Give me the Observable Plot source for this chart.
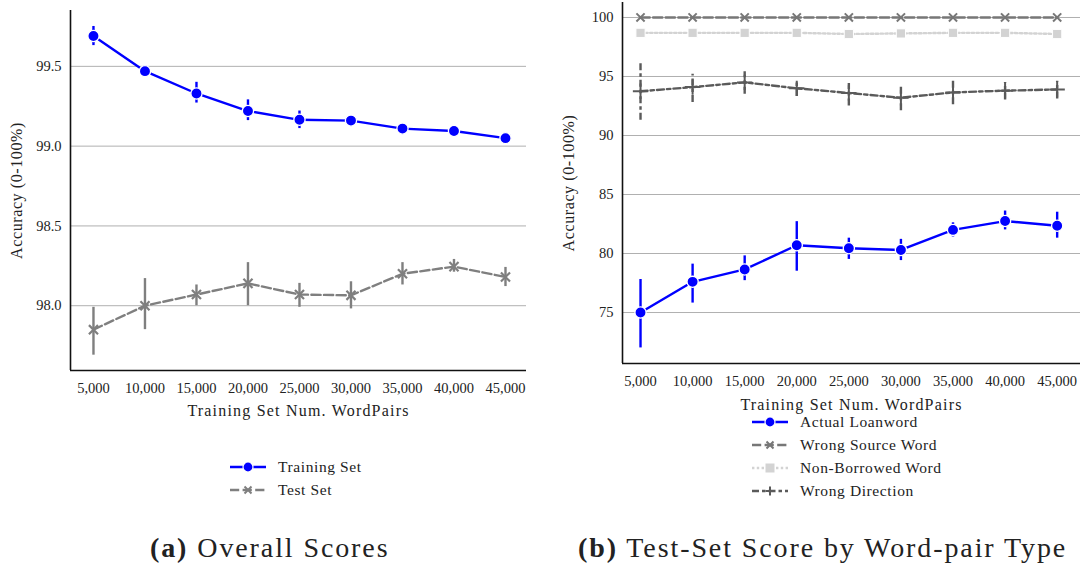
<!DOCTYPE html>
<html>
<head>
<meta charset="utf-8">
<script src="https://cdn.jsdelivr.net/npm/d3@7"></script>
<script src="https://cdn.jsdelivr.net/npm/@observablehq/plot@0.6"></script>
<style>
  html, body { margin: 0; padding: 0; background: #fff; }
  #root { position: relative; width: 1081px; height: 567px; overflow: hidden; font-family: "Liberation Serif", serif; color: #222; }
  .panel { position: absolute; top: 0; }
  .legend { position: absolute; font-size: 15.5px; letter-spacing: 0.6px; }
  .legend .row { display: flex; align-items: center; height: 23px; }
  .legend svg { margin-right: 12px; }
  .caption { position: absolute; top: 532px; font-size: 28px; letter-spacing: 1.9px; white-space: nowrap; }
  #root svg g[aria-label="x-axis label"] text { font-size: 16px; letter-spacing: 1.2px; }
  #root svg g[aria-label="y-axis label"] text { font-size: 16px; letter-spacing: 0.6px; }
</style>
</head>
<body>
<div id="root">
  <div id="panelA" class="panel" style="left:0px"></div>
  <div id="panelB" class="panel" style="left:540px"></div>
  <div id="legendA" class="legend" style="left:230px; top:455px"></div>
  <div id="legendB" class="legend" style="left:752px; top:410px"></div>
  <div class="caption" style="left:150px"><b>(a)</b> Overall Scores</div>
  <div class="caption" style="left:578px"><b>(b)</b> Test-Set Score by Word-pair Type</div>
</div>
<script>
// ---- data ----
const wordPairs = [5000, 10000, 15000, 20000, 25000, 30000, 35000, 40000, 45000];

// Panel (a): overall scores
const trainMean = [99.69, 99.47, 99.33, 99.22, 99.165, 99.16, 99.11, 99.095, 99.05];
const trainLo   = [99.63, 99.44, 99.27, 99.16, 99.11, 99.13, 99.10, 99.085, 99.045];
const trainHi   = [99.75, 99.50, 99.40, 99.29, 99.22, 99.19, 99.12, 99.105, 99.055];
const testMean  = [97.85, 98.00, 98.07, 98.14, 98.07, 98.065, 98.20, 98.245, 98.18];
const testLo    = [97.69, 97.85, 98.00, 98.00, 97.99, 97.98, 98.13, 98.21, 98.12];
const testHi    = [97.99, 98.17, 98.13, 98.27, 98.14, 98.15, 98.27, 98.29, 98.24];

// Panel (b): test-set score by word-pair type
const loanMean = [75.0, 77.6, 78.65, 80.7, 80.45, 80.3, 82.0, 82.75, 82.35];
const loanLo   = [72.0, 75.8, 77.7, 78.5, 79.5, 79.4, 81.4, 82.0, 81.3];
const loanHi   = [77.8, 79.1, 79.8, 82.7, 81.3, 81.2, 82.6, 83.6, 83.5];
const sourceMean = [100, 100, 100, 100, 100, 100, 100, 100, 100];
const nonBorrowedMean = [98.7, 98.7, 98.7, 98.7, 98.6, 98.65, 98.7, 98.7, 98.6];
const directionMean = [93.75, 94.1, 94.5, 94.0, 93.6, 93.2, 93.65, 93.8, 93.9];
const directionLo   = [91.3, 92.8, 93.5, 93.3, 92.5, 92.1, 92.6, 93.0, 93.1];
const directionHi   = [96.1, 95.2, 95.4, 94.7, 94.4, 94.3, 94.6, 94.5, 94.6];

const yTicksA = [98.0, 98.5, 99.0, 99.5];
const yTicksB = [75, 80, 85, 90, 95, 100];
const seriesA = ["Training Set", "Test Set"];
const seriesB = ["Actual Loanword", "Wrong Source Word", "Non-Borrowed Word", "Wrong Direction"];

// ---- helpers ----
const rows = (mean, lo, hi) => wordPairs.map((x, i) => ({x, y: mean[i], lo: lo ? lo[i] : mean[i], hi: hi ? hi[i] : mean[i]}));
const fmt = d3.format(",");
const FONT = "'Liberation Serif', serif";

const BLUE = "#0000ff", GRAY = "#7f7f7f", SRC = "#777777", NB = "#d3d3d3", DIR = "#5a5a5a";
const LW = 2.4;
const DASH1 = "9.2,3.4", DOT = "2.4,2.4", DASHDOT = "7,3,3.5,3";

// ---- Panel (a) ----
const train = rows(trainMean, trainLo, trainHi);
const test = rows(testMean, testLo, testHi);
const xDomA = [2770, 47040], yDomA = [97.594, 99.85];

const plotA = Plot.plot({
  width: 540, height: 420,
  marginLeft: 70, marginRight: 14, marginTop: 10, marginBottom: 50,
  style: {fontFamily: FONT, fontSize: "14.5px", color: "#222", background: "white"},
  x: {domain: xDomA},
  y: {domain: yDomA},
  marks: [
    Plot.gridY(yTicksA, {stroke: "#b0b0b0", strokeOpacity: 1, strokeWidth: 1}),
    Plot.axisY(yTicksA, {tickSize: 0, tickPadding: 9, tickFormat: d => d.toFixed(1), label: "Accuracy (0-100%)", labelAnchor: "center", labelOffset: 60, labelArrow: "none", fontSize: 14.5}),
    Plot.axisX(wordPairs, {tickSize: 0, tickPadding: 12, tickFormat: fmt, label: "Training Set Num. WordPairs", labelAnchor: "center", labelOffset: 45, labelArrow: "none", fontSize: 14.5}),
    Plot.ruleY([yDomA[0]], {stroke: "#111", strokeWidth: 1.6}),
    Plot.ruleX([xDomA[0]], {stroke: "#111", strokeWidth: 1.6}),
    // test set
    Plot.ruleX(test, {x: "x", y1: "lo", y2: "hi", stroke: GRAY, strokeWidth: LW}),
    Plot.line(test, {x: "x", y: "y", stroke: GRAY, strokeWidth: LW, strokeDasharray: DASH1}),
    Plot.dot(test, {x: "x", y: "y", symbol: "times", r: 4.2, stroke: GRAY, strokeWidth: 2.2}),
    // training set
    Plot.ruleX(train, {x: "x", y1: "lo", y2: "hi", stroke: BLUE, strokeWidth: LW}),
    Plot.line(train, {x: "x", y: "y", stroke: BLUE, strokeWidth: LW}),
    Plot.dot(train, {x: "x", y: "y", symbol: "circle", r: 5.6, fill: BLUE, stroke: "white", strokeWidth: 1.3})
  ]
});
document.getElementById("panelA").appendChild(plotA);

// ---- Panel (b) ----
const loan = rows(loanMean, loanLo, loanHi);
const src = rows(sourceMean);
const nb = rows(nonBorrowedMean);
const dir = rows(directionMean, directionLo, directionHi);
const xDomB = [3270, 47240], yDomB = [70.68, 101.27];

const plotB = Plot.plot({
  width: 541, height: 420,
  marginLeft: 82, marginRight: 1, marginTop: 2, marginBottom: 57,
  style: {fontFamily: FONT, fontSize: "14.5px", color: "#222", background: "white"},
  x: {domain: xDomB},
  y: {domain: yDomB},
  marks: [
    Plot.gridY(yTicksB, {stroke: "#b0b0b0", strokeOpacity: 1, strokeWidth: 1}),
    Plot.axisY(yTicksB, {tickSize: 0, tickPadding: 9, tickFormat: d => String(d), label: "Accuracy (0-100%)", labelAnchor: "center", labelOffset: 60, labelArrow: "none", fontSize: 14.5}),
    Plot.axisX(wordPairs, {tickSize: 0, tickPadding: 12, tickFormat: fmt, label: "Training Set Num. WordPairs", labelAnchor: "center", labelOffset: 46, labelArrow: "none", fontSize: 14.5}),
    Plot.ruleY([yDomB[0]], {stroke: "#111", strokeWidth: 1.6}),
    Plot.ruleX([xDomB[0]], {stroke: "#111", strokeWidth: 1.6}),
    // wrong direction
    Plot.ruleX(dir, {x: "x", y1: "lo", y2: "hi", stroke: DIR, strokeWidth: LW, strokeDasharray: DASHDOT}),
    Plot.line(dir, {x: "x", y: "y", stroke: DIR, strokeWidth: LW, strokeDasharray: DASHDOT}),
    Plot.dot(dir, {x: "x", y: "y", symbol: "plus", r: 5, stroke: DIR, strokeWidth: 2}),
    // non-borrowed
    Plot.line(nb, {x: "x", y: "y", stroke: NB, strokeWidth: LW, strokeDasharray: DOT}),
    Plot.dot(nb, {x: "x", y: "y", symbol: "square", r: 5.2, fill: NB, stroke: "white", strokeWidth: 1}),
    // wrong source
    Plot.line(src, {x: "x", y: "y", stroke: SRC, strokeWidth: LW, strokeDasharray: DASH1}),
    Plot.dot(src, {x: "x", y: "y", symbol: "times", r: 3.8, stroke: SRC, strokeWidth: 2}),
    // actual loanword
    Plot.ruleX(loan, {x: "x", y1: "lo", y2: "hi", stroke: BLUE, strokeWidth: LW}),
    Plot.line(loan, {x: "x", y: "y", stroke: BLUE, strokeWidth: LW}),
    Plot.dot(loan, {x: "x", y: "y", symbol: "circle", r: 5.6, fill: BLUE, stroke: "white", strokeWidth: 1.3})
  ]
});
document.getElementById("panelB").appendChild(plotB);

// ---- legends ----
function swatch(color, dash, marker) {
  const ns = "http://www.w3.org/2000/svg";
  const svg = document.createElementNS(ns, "svg");
  svg.setAttribute("width", 36); svg.setAttribute("height", 14);
  const line = document.createElementNS(ns, "line");
  line.setAttribute("x1", 0); line.setAttribute("x2", 36); line.setAttribute("y1", 7); line.setAttribute("y2", 7);
  line.setAttribute("stroke", color); line.setAttribute("stroke-width", LW);
  if (dash) line.setAttribute("stroke-dasharray", dash);
  svg.appendChild(line);
  let m;
  if (marker === "circle") {
    m = document.createElementNS(ns, "circle");
    m.setAttribute("cx", 18); m.setAttribute("cy", 7); m.setAttribute("r", 5);
    m.setAttribute("fill", color); m.setAttribute("stroke", "white"); m.setAttribute("stroke-width", 1.2);
  } else if (marker === "square") {
    m = document.createElementNS(ns, "rect");
    m.setAttribute("x", 13); m.setAttribute("y", 2); m.setAttribute("width", 10); m.setAttribute("height", 10);
    m.setAttribute("fill", color); m.setAttribute("stroke", "white"); m.setAttribute("stroke-width", 1);
  } else {
    m = document.createElementNS(ns, "path");
    const d = marker === "times" ? "M14.5,3.5L21.5,10.5M21.5,3.5L14.5,10.5" : "M18,2.5V11.5M13.5,7H22.5";
    m.setAttribute("d", d); m.setAttribute("stroke", color); m.setAttribute("stroke-width", 2); m.setAttribute("fill", "none");
  }
  svg.appendChild(m);
  return svg;
}
function legend(id, names, styles) {
  const el = document.getElementById(id);
  names.forEach((name, i) => {
    const row = document.createElement("div");
    row.className = "row";
    row.appendChild(swatch(...styles[i]));
    const t = document.createElement("span");
    t.textContent = name;
    row.appendChild(t);
    el.appendChild(row);
  });
}
legend("legendA", seriesA, [[BLUE, null, "circle"], [GRAY, DASH1, "times"]]);
legend("legendB", seriesB, [[BLUE, null, "circle"], [SRC, DASH1, "times"], [NB, DOT, "square"], [DIR, DASHDOT, "plus"]]);
</script>
</body>
</html>
